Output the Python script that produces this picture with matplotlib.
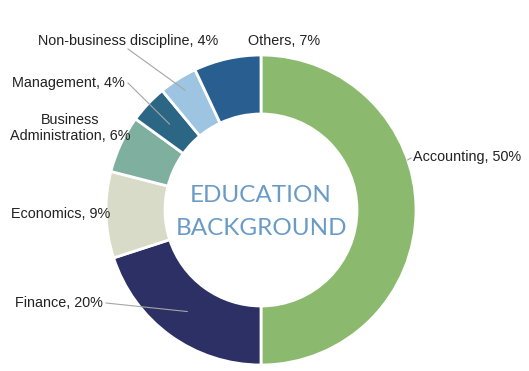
import numpy as np
import matplotlib.pyplot as plt

# data
categories = ['Accounting', 'Finance', 'Economics', 'Business\nAdministration',
              'Management', 'Non-business discipline', 'Others']
shares = [50, 20, 9, 6, 4, 4, 7]
colors = ['#8bba6e', '#2c3064', '#d8dbc8', '#7fb09f', '#2b6784', '#9dc4e1', '#295f90']

W, H = 529, 371
fig = plt.figure(figsize=(W / 100, H / 100), dpi=100)
ax = fig.add_axes([0, 0, 1, 1])

def py(y):
    # pixel row (from top) -> data y (from bottom)
    return H - y

cx, cy = 261, py(210)      # donut centre
r_out, r_in = 155, 96

ax.pie(shares, colors=colors, startangle=90, counterclock=False,
       radius=r_out, center=(cx, cy), frame=True,
       wedgeprops=dict(width=r_out - r_in, edgecolor='white', linewidth=2))
ax.set_xlim(0, W)
ax.set_ylim(0, H)
ax.set_aspect('equal')
ax.axis('off')

# label anchor (x, y from top, ha) and leader line flag
label_pos = [
    (413, 157, 'left', True),
    (103, 303, 'right', True),
    (110, 214, 'right', False),
    (70, 128, 'center', False),
    (125, 83, 'right', True),
    (218, 41, 'right', True),
    (248, 41, 'left', False),
]

cum = np.cumsum([0] + shares)
total = sum(shares)
for i, (cat, val) in enumerate(zip(categories, shares)):
    x, y, ha, leader = label_pos[i]
    ax.text(x, py(y), f'{cat}, {val}%', ha=ha, va='center', fontsize=10.4,
            family='Liberation Sans', color='#222222', multialignment='center')
    if not leader:
        continue
    if i == 0:
        # short tick to the outer edge
        ey = y + 3
        ex = cx + np.sqrt(r_out**2 - (210 - ey)**2)
        ax.plot([x - 2, ex], [py(y + 1), py(ey)], color='#a6a6a6', lw=0.8)
        continue
    mid = 90 - 360 * (cum[i] + val / 2) / total      # clockwise from top
    rr = 142 if i == 5 else (r_out + r_in) / 2
    ex = cx + rr * np.cos(np.radians(mid))
    ey = cy + rr * np.sin(np.radians(mid))
    sy = y + (8 if i == 5 else 0)
    sx = x - 90 if i == 5 else x + 3
    ax.plot([sx, ex], [py(sy), ey], color='#a6a6a6', lw=0.8)

ax.text(cx, py(212), 'EDUCATION\nBACKGROUND', ha='center', va='center',
        fontsize=17.5, family='Lato', color='#6a9bc7', linespacing=1.75)

fig.savefig('out.png', dpi=100)
